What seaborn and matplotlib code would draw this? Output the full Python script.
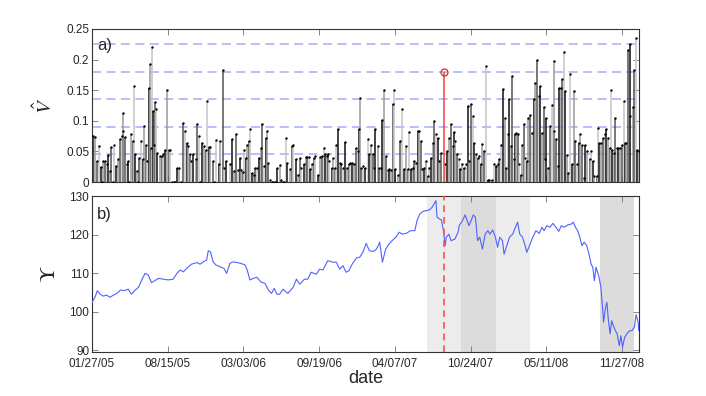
import numpy as np
import pandas as pd
import matplotlib
matplotlib.use("Agg")
import matplotlib.pyplot as plt
import seaborn as sns

# trading-day index axis with date labels
n_days = 1012
day_ticks = [0, 140, 280, 420, 560, 700, 840, 980]
day_labels = ['01/27/05', '08/15/05', '03/03/06', '09/19/06',
              '04/07/07', '10/24/07', '05/11/08', '11/27/08']

# panel a) stems
stem_day = [1, 5, 9, 13, 17, 21, 24, 27, 30, 33, 36, 41, 44, 49, 52, 55, 57, 58, 61, 64,
            67, 72, 75, 78, 80, 83, 87, 91, 94, 97, 99, 102, 105, 107, 109, 111, 112, 115, 116, 119,
            121, 126, 129, 132, 135, 139, 142, 144, 157, 161, 169, 172, 175, 178, 181, 184, 187, 192, 195, 198,
            203, 207, 211, 213, 216, 219, 224, 229, 234, 237, 242, 244, 248,
            19, 38, 68, 85, 148, 151, 153, 164, 200, 226,
            255, 258, 263, 267, 270, 273, 276, 279, 282, 285, 287, 290, 293, 296, 299, 302, 306, 308, 312, 315,
            318, 321, 324, 326, 329, 343, 347, 350, 358, 361, 366, 369, 372, 377, 381, 384, 387, 392, 395, 398,
            401, 404, 407, 411, 413, 418, 422, 425, 429, 431, 435, 436, 439, 443, 446, 449, 452, 454, 458, 461,
            464, 468, 471, 475, 477, 481, 484, 489, 491, 494, 496, 498, 501, 505,
            332, 335, 338, 341, 353, 355,
            510, 513, 516, 519, 522, 524, 528, 531, 534, 537, 540, 544, 547, 550, 553, 556, 558, 561, 565, 570,
            574, 577, 581, 584, 587, 590, 593, 596, 599, 602, 605, 608, 611, 614, 618, 621, 624, 627, 630, 633,
            636, 639, 642, 645, 653, 656, 661, 664, 667, 669, 672, 675, 678, 681, 684, 688, 691, 695, 698, 701,
            704, 707, 710, 713, 716, 719, 722, 725, 728, 732, 735, 740, 743, 747, 750, 753, 756,
            760, 763, 766, 769, 772, 774, 777, 780, 782, 784, 788, 790, 793, 796, 798, 801, 804, 807, 810, 814,
            817, 820, 823, 826, 829, 832, 835, 838, 840, 843, 846, 851, 854, 855, 858, 862, 864, 868, 870, 872,
            875, 878, 881, 884, 888, 891, 894, 897, 900, 903, 906, 909, 912, 915, 920, 923, 926, 929, 934, 936,
            938, 942, 945, 948, 951, 954, 957, 959, 962, 965, 968, 970, 973, 977, 980, 983, 985, 987, 991, 994,
            995, 1000, 1003, 1006, 1008, 1011]
stem_val = [0.075, 0.073, 0.034, 0.059, 0.024, 0.034, 0.035, 0.029, 0.044, 0.018, 0.058, 0.060, 0.026, 0.037, 0.071, 0.075, 0.083, 0.112, 0.073, 0.029,
            0.034, 0.078, 0.067, 0.157, 0.045, 0.018, 0.040, 0.067, 0.037, 0.091, 0.061, 0.034, 0.154, 0.193, 0.056, 0.221, 0.116, 0.061, 0.130, 0.120,
            0.048, 0.042, 0.042, 0.046, 0.053, 0.151, 0.052, 0.052, 0.023, 0.023, 0.097, 0.083, 0.064, 0.059, 0.045, 0.034, 0.045, 0.037, 0.094, 0.075,
            0.064, 0.059, 0.053, 0.133, 0.057, 0.057, 0.034, 0.068, 0.029, 0.067, 0.183, 0.023, 0.035,
            0, 0, 0, 0, 0, 0, 0, 0, 0, 0,
            0.029, 0.070, 0.018, 0.079, 0.019, 0.040, 0.019, 0.016, 0.053, 0.040, 0.061, 0.067, 0.086, 0.015, 0.012, 0.023, 0.023, 0.040, 0.055, 0.094,
            0.026, 0.072, 0.084, 0.031, 0.004, 0.023, 0.027, 0.004, 0.072, 0.031, 0.021, 0.059, 0.061, 0.037, 0.012, 0.040, 0.023, 0.029, 0.041, 0.041,
            0.041, 0.021, 0.030, 0.040, 0.042, 0.012, 0.041, 0.042, 0.055, 0.045, 0.042, 0.045, 0.034, 0.023, 0.040, 0.023, 0.061, 0.086, 0.031, 0.029,
            0.023, 0.065, 0.023, 0.029, 0.031, 0.031, 0.029, 0.055, 0.051, 0.086, 0.137, 0.023, 0.026, 0.023,
            0, 0, 0, 0, 0, 0,
            0.070, 0.045, 0.061, 0.045, 0.023, 0.086, 0.059, 0.023, 0.023, 0.102, 0.151, 0.042, 0.019, 0.021, 0.019, 0.127, 0.150, 0.021, 0.012, 0.067,
            0.120, 0.021, 0.059, 0.021, 0.082, 0.021, 0.023, 0.034, 0.031, 0.084, 0.084, 0.067, 0.021, 0.023, 0.034, 0.010, 0.023, 0.040, 0.064, 0.100,
            0.079, 0.072, 0.034, 0.048, 0.029, 0.050, 0.072, 0.095, 0.059, 0.082, 0.067, 0.045, 0.037, 0.021, 0.029, 0.023, 0.029, 0.124, 0.034, 0.127,
            0.108, 0.064, 0.045, 0.040, 0.042, 0.029, 0.062, 0.051, 0.190, 0.004, 0.004, 0.004, 0.029, 0.026, 0.029, 0.037, 0.061,
            0.152, 0.105, 0.023, 0.078, 0.135, 0.059, 0.173, 0.037, 0.078, 0.080, 0.078, 0.029, 0.012, 0.061, 0.094, 0.040, 0.034, 0.104, 0.109, 0.080,
            0.135, 0.162, 0.199, 0.141, 0.157, 0.080, 0.122, 0.037, 0.104, 0.023, 0.091, 0.126, 0.083, 0.197, 0.070, 0.026, 0.154, 0.154, 0.169, 0.212,
            0.149, 0.044, 0.015, 0.176, 0.029, 0.149, 0.067, 0.029, 0.064, 0.078, 0.061, 0.007, 0.061, 0.051, 0.037, 0.051, 0.034, 0.010, 0.010, 0.089,
            0.064, 0.064, 0.072, 0.079, 0.086, 0.072, 0.056, 0.150, 0.053, 0.048, 0.104, 0.056, 0.056, 0.056, 0.061, 0.132, 0.064, 0.064, 0.215, 0.108,
            0.225, 0.122, 0.183, 0.236, 0.052, 0.051]
event_day = 650
event_val = 0.180
thresholds = [0.045, 0.09, 0.135, 0.18, 0.225]

# panel b) index level
price_day = [0, 6, 10, 15, 21, 27, 33, 39, 46, 53, 59, 67, 73, 80, 86, 92, 98, 104, 110, 116,
             123, 132, 141, 150, 157, 163, 169, 175, 184, 194, 200, 206, 212, 215, 219, 224, 229, 237, 244, 249,
             255, 261, 269, 275, 283, 287, 292, 298, 305, 312, 320, 326, 332, 337, 342, 347, 353, 362, 372, 378,
             384, 393, 399, 405, 415, 421, 427, 436, 446, 452, 458, 464, 470, 475, 481, 489, 495, 501, 507, 513,
             520, 526, 532, 537, 543, 549, 555, 562, 568, 574, 581, 589, 597, 601, 606, 612, 618, 624, 629, 636,
             638, 643, 646, 650, 653, 655, 660, 664, 671, 677, 679, 685, 690, 697, 701, 705, 709, 713, 717, 722,
             727, 732, 736, 741, 746, 750, 754, 759, 762, 767, 772, 778, 783, 787, 791, 796, 801, 804, 809, 815,
             821, 827, 832, 836, 841, 847, 852, 858, 863, 868, 873, 880, 886, 890, 894, 898, 902, 906, 910, 915,
             919, 923, 926, 929, 932, 937, 941, 944, 946, 949, 952, 955, 958, 961, 964, 968, 971, 975, 978, 981,
             985, 989, 994, 998, 1003, 1006, 1010, 1011]
price_val = [102.3, 103.9, 105.4, 104.5, 104.0, 104.3, 103.7, 104.2, 104.7, 105.6, 105.4, 105.8, 104.5, 105.6, 106.3, 108.2, 109.9, 109.5, 107.5, 108.0,
             108.6, 108.4, 108.2, 108.4, 109.9, 110.8, 110.3, 111.2, 112.3, 112.7, 112.3, 112.9, 113.4, 115.8, 115.5, 112.9, 112.1, 111.6, 111.2, 109.9,
             112.5, 112.9, 112.7, 112.5, 112.1, 110.8, 108.2, 108.6, 108.9, 107.7, 107.3, 105.6, 104.7, 106.0, 104.5, 104.5, 105.8, 104.7, 106.3, 108.4,
             107.1, 108.4, 108.4, 110.2, 109.7, 111.0, 110.8, 113.2, 112.8, 112.8, 111.0, 111.9, 110.2, 110.6, 112.3, 113.9, 114.1, 115.4, 117.7, 115.8,
             115.6, 116.2, 118.0, 112.8, 116.2, 117.5, 118.4, 119.3, 120.6, 120.1, 120.3, 121.0, 121.0, 123.6, 125.3, 126.0, 126.2, 126.4, 127.1, 128.8,
             124.5, 124.0, 123.8, 121.0, 117.1, 119.3, 120.1, 118.4, 118.8, 120.6, 122.3, 123.6, 125.1, 122.3, 123.6, 125.1, 124.5, 118.4, 119.3, 116.2,
             120.1, 121.0, 120.1, 121.2, 119.3, 116.7, 119.3, 118.4, 114.9, 117.1, 119.3, 120.1, 121.9, 123.2, 120.1, 119.3, 117.1, 115.4, 117.1, 119.3,
             121.0, 120.3, 121.9, 121.0, 122.3, 121.9, 122.9, 121.9, 120.8, 122.3, 121.9, 122.5, 122.7, 123.2, 121.9, 121.0, 119.3, 117.1, 118.0, 117.1,
             114.9, 112.3, 111.5, 108.0, 111.5, 109.3, 106.3, 101.1, 97.2, 100.6, 102.4, 97.6, 94.2, 97.6, 96.3, 95.0, 94.2, 91.1, 93.7, 90.7,
             93.3, 94.2, 95.0, 95.0, 95.9, 99.2, 97.2, 95.0]

light_bands = [(619, 683), (747, 810)]
dark_bands = [(683, 747), (939, 1003)]

sns.set_style("ticks")
plt.rcParams['font.family'] = ['Liberation Sans', 'DejaVu Sans']
plt.rcParams['mathtext.fontset'] = 'stix'

stems = pd.DataFrame({'day': stem_day, 'val': stem_val})
prices = pd.DataFrame({'day': price_day, 'level': price_val})

fig = plt.figure(figsize=(7.06, 3.96), dpi=100)
ax1 = fig.add_axes([0.1303, 0.5404, 0.7752, 0.3864])
ax2 = fig.add_axes([0.1303, 0.1103, 0.7752, 0.3947])

# --- a) ---
for t in thresholds:
    ax1.axhline(t, color='#b0b9ff', ls=(0, (5, 3)), lw=1.3, zorder=1)
shades = ['0.1', '0.62', '0.35', '0.78']
cols = [shades[i % len(shades)] for i in range(len(stems))]
ax1.vlines(stems['day'], 0, stems['val'], colors=cols, lw=1.15, zorder=2)
sns.scatterplot(data=stems, x='day', y='val', ax=ax1, color='k', s=3,
                marker='o', linewidth=0, legend=False, zorder=3)
ax1.vlines(event_day, 0, event_val, color='#ff3b3b', lw=1.1, zorder=4)
ax1.plot(event_day, event_val, 'o', mfc='none', mec='#e82020', ms=5, mew=0.9, zorder=5)
ax1.set_xlim(0, n_days)
ax1.set_ylim(0, 0.25)
ax1.set_yticks([0, 0.05, 0.1, 0.15, 0.2, 0.25])
ax1.set_yticklabels(['0', '0.05', '0.1', '0.15', '0.2', '0.25'])
ax1.set_xticks(day_ticks)
ax1.set_xticklabels([])
ax1.set_xlabel('')
ax1.set_ylabel(r'$\hat{V}$', fontsize=15)
ax1.yaxis.set_label_coords(-0.066, 0.5)
ax1.text(0.009, 0.94, 'a)', transform=ax1.transAxes, fontsize=12, va='top', ha='left')

# --- b) ---
for a, b in light_bands:
    ax2.axvspan(a, b, color='#ececec', lw=0, zorder=0)
for a, b in dark_bands:
    ax2.axvspan(a, b, color='#dcdcdc', lw=0, zorder=0)
sns.lineplot(data=prices, x='day', y='level', ax=ax2, color='#4f62ff', lw=0.8, zorder=3)
ax2.axvline(event_day, color='#ff5050', ls=(0, (4, 3)), lw=1.2, zorder=4)
ax2.set_xlim(0, n_days)
ax2.set_ylim(89.4, 130)
ax2.set_yticks([90, 100, 110, 120, 130])
ax2.set_xticks(day_ticks)
ax2.set_xticklabels(day_labels)
ax2.set_xlabel('date', fontsize=13, labelpad=0)
ax2.set_ylabel(r'$\Upsilon$', fontsize=16)
ax2.yaxis.set_label_coords(-0.058, 0.5)
ax2.text(0.009, 0.93, 'b)', transform=ax2.transAxes, fontsize=12, va='top', ha='left')

for ax in (ax1, ax2):
    ax.tick_params(direction='in', top=True, right=True, length=4, width=0.6,
                   color='0.45', labelsize=8.5, pad=2)
    for s in ax.spines.values():
        s.set_color('0.2')
        s.set_linewidth(0.8)
ax2.tick_params(axis='x', pad=4)

fig.savefig('out.png', dpi=100)
